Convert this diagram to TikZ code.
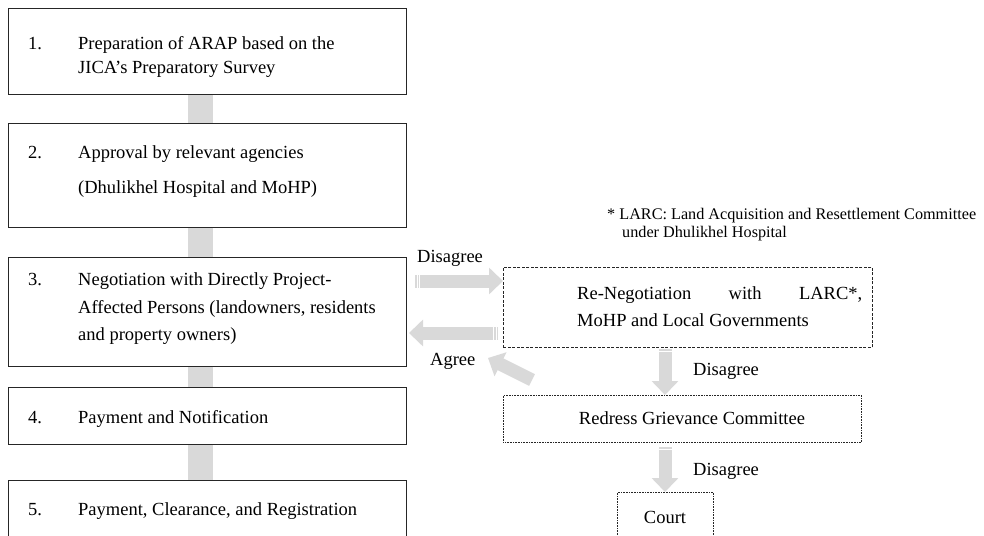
\documentclass[tikz,border=0pt]{standalone}
\usepackage{fontspec}
\setmainfont{Liberation Serif}
\usetikzlibrary{arrows.meta}
\definecolor{flowgray}{RGB}{217,217,217}
\begin{document}
\begin{tikzpicture}[x=1pt,y=-1pt,
  stepbox/.style={draw=black!85,line width=0.9pt,anchor=north west,inner sep=0pt},
  dashbox/.style={draw=black!85,line width=0.8pt,dash pattern=on 3pt off 1.5pt,anchor=north west,inner sep=0pt},
  dotbox/.style={draw=black!85,line width=0.8pt,dash pattern=on 0.8pt off 0.8pt,anchor=north west,inner sep=0pt},
  txt/.style={anchor=base west,inner sep=0pt,font=\fontsize{18.5}{22}\selectfont},
  ctxt/.style={anchor=base,inner sep=0pt,font=\fontsize{18.5}{22}\selectfont},
  note/.style={anchor=base west,inner sep=0pt,font=\fontsize{16.2}{18}\selectfont},
  link/.style={line width=25pt,flowgray},
  flow/.style={line width=13pt,flowgray,-{Triangle[width=26pt,length=14pt]}},
  stripe/.style={white,line width=0.8pt}]
\useasboundingbox (0,0) rectangle (984,535);

% reference line for the step connectors
\coordinate (cx) at (200.5,0);

% main steps
\node[stepbox,minimum width=398pt,minimum height=86pt] (b1) at (8,8) {};
\node[stepbox,minimum width=398pt,minimum height=104pt] (b2) at (8,123) {};
\node[stepbox,minimum width=398pt,minimum height=109pt] (b3) at (8,257) {};
\node[stepbox,minimum width=398pt,minimum height=57pt] (b4) at (8,387) {};
\node[stepbox,minimum width=398pt,minimum height=80pt] (b5) at (8,480) {};

\draw[link] (b1.south -| cx) -- (b2.north -| cx);
\draw[link] (b2.south -| cx) -- (b3.north -| cx);
\draw[link] (b3.south -| cx) -- (b4.north -| cx);
\draw[link] (b4.south -| cx) -- (b5.north -| cx);

% step texts
\node[txt] (n1) at (28,50) {1.};
\node[txt] (t1a) at (78,50) {Preparation of ARAP based on the};
\node[txt] (t1b) at (78,73) {JICA’s Preparatory Survey};
\node[txt] (n2) at (28,158) {2.};
\node[txt] (t2a) at (78,158) {Approval by relevant agencies};
\node[txt] (t2b) at (78,193) {(Dhulikhel Hospital and MoHP)};
\node[txt] (n3) at (28,285) {3.};
\node[txt] (t3a) at (78,285) {Negotiation with Directly Project-};
\node[txt] (t3b) at (78,313) {Affected Persons (landowners, residents};
\node[txt] (t3c) at (78,340) {and property owners)};
\node[txt] (n4) at (28,423) {4.};
\node[txt] (t4) at (78,423) {Payment and Notification};
\node[txt] (n5) at (28,515) {5.};
\node[txt] (t5) at (78,515) {Payment, Clearance, and Registration};

% footnote
\node[note] (fn1) at (607,219) {* LARC: Land Acquisition and Resettlement Committee};
\node[note] (fn2) at (622,237) {under Dhulikhel Hospital};

% grievance path
\node[dashbox,minimum width=369pt,minimum height=80pt] (rn) at (503,267) {};
\node[txt] (rna) at (577,299) {\makebox[285pt][s]{Re-Negotiation with LARC*,}};
\node[txt] (rnb) at (577,326) {MoHP and Local Governments};

\node[dotbox,minimum width=358pt,minimum height=47pt] (rg) at (503,395) {};
\node[ctxt] (rgt) at (692,424) {Redress Grievance Committee};

\node[dotbox,minimum width=96pt,minimum height=70pt] (ct) at (617,492) {};
\node[ctxt] (ctt) at (665,523) {Court};

% flow arrows
\coordinate (ds) at (415,281);
\coordinate (de) at (503,281);
\coordinate (as) at (498,333);
\coordinate (ae) at (409,333);
\coordinate (gs) at (532,380);
\coordinate (ge) at (488,358);
\coordinate (d1s) at (665,349);
\coordinate (d2s) at (665,447);

\draw[flow] (ds) -- (de);
\draw[stripe] ([xshift=2pt]ds) ++(0,-6.5) -- ++(0,13);
\draw[stripe] ([xshift=4.5pt]ds) ++(0,-6.5) -- ++(0,13);
\draw[flow] (as) -- (ae);
\draw[stripe] ([xshift=-2pt]as) ++(0,-6.5) -- ++(0,13);
\draw[stripe] ([xshift=-4.5pt]as) ++(0,-6.5) -- ++(0,13);
\draw[flow] (gs) -- (ge);
\draw[flow] (d1s) -- (rg.north -| d1s);
\draw[stripe] ([yshift=-2pt]d1s) ++(-6.5,0) -- ++(13,0);
\draw[flow] (d2s) -- (ct.north -| d2s);
\draw[stripe] ([yshift=-2pt]d2s) ++(-6.5,0) -- ++(13,0);

% arrow labels
\node[txt] (l1) at (417,262) {Disagree};
\node[txt] (l2) at (430,365) {Agree};
\node[txt] (l3) at (693,375) {Disagree};
\node[txt] (l4) at (693,475) {Disagree};
\end{tikzpicture}
\end{document}
